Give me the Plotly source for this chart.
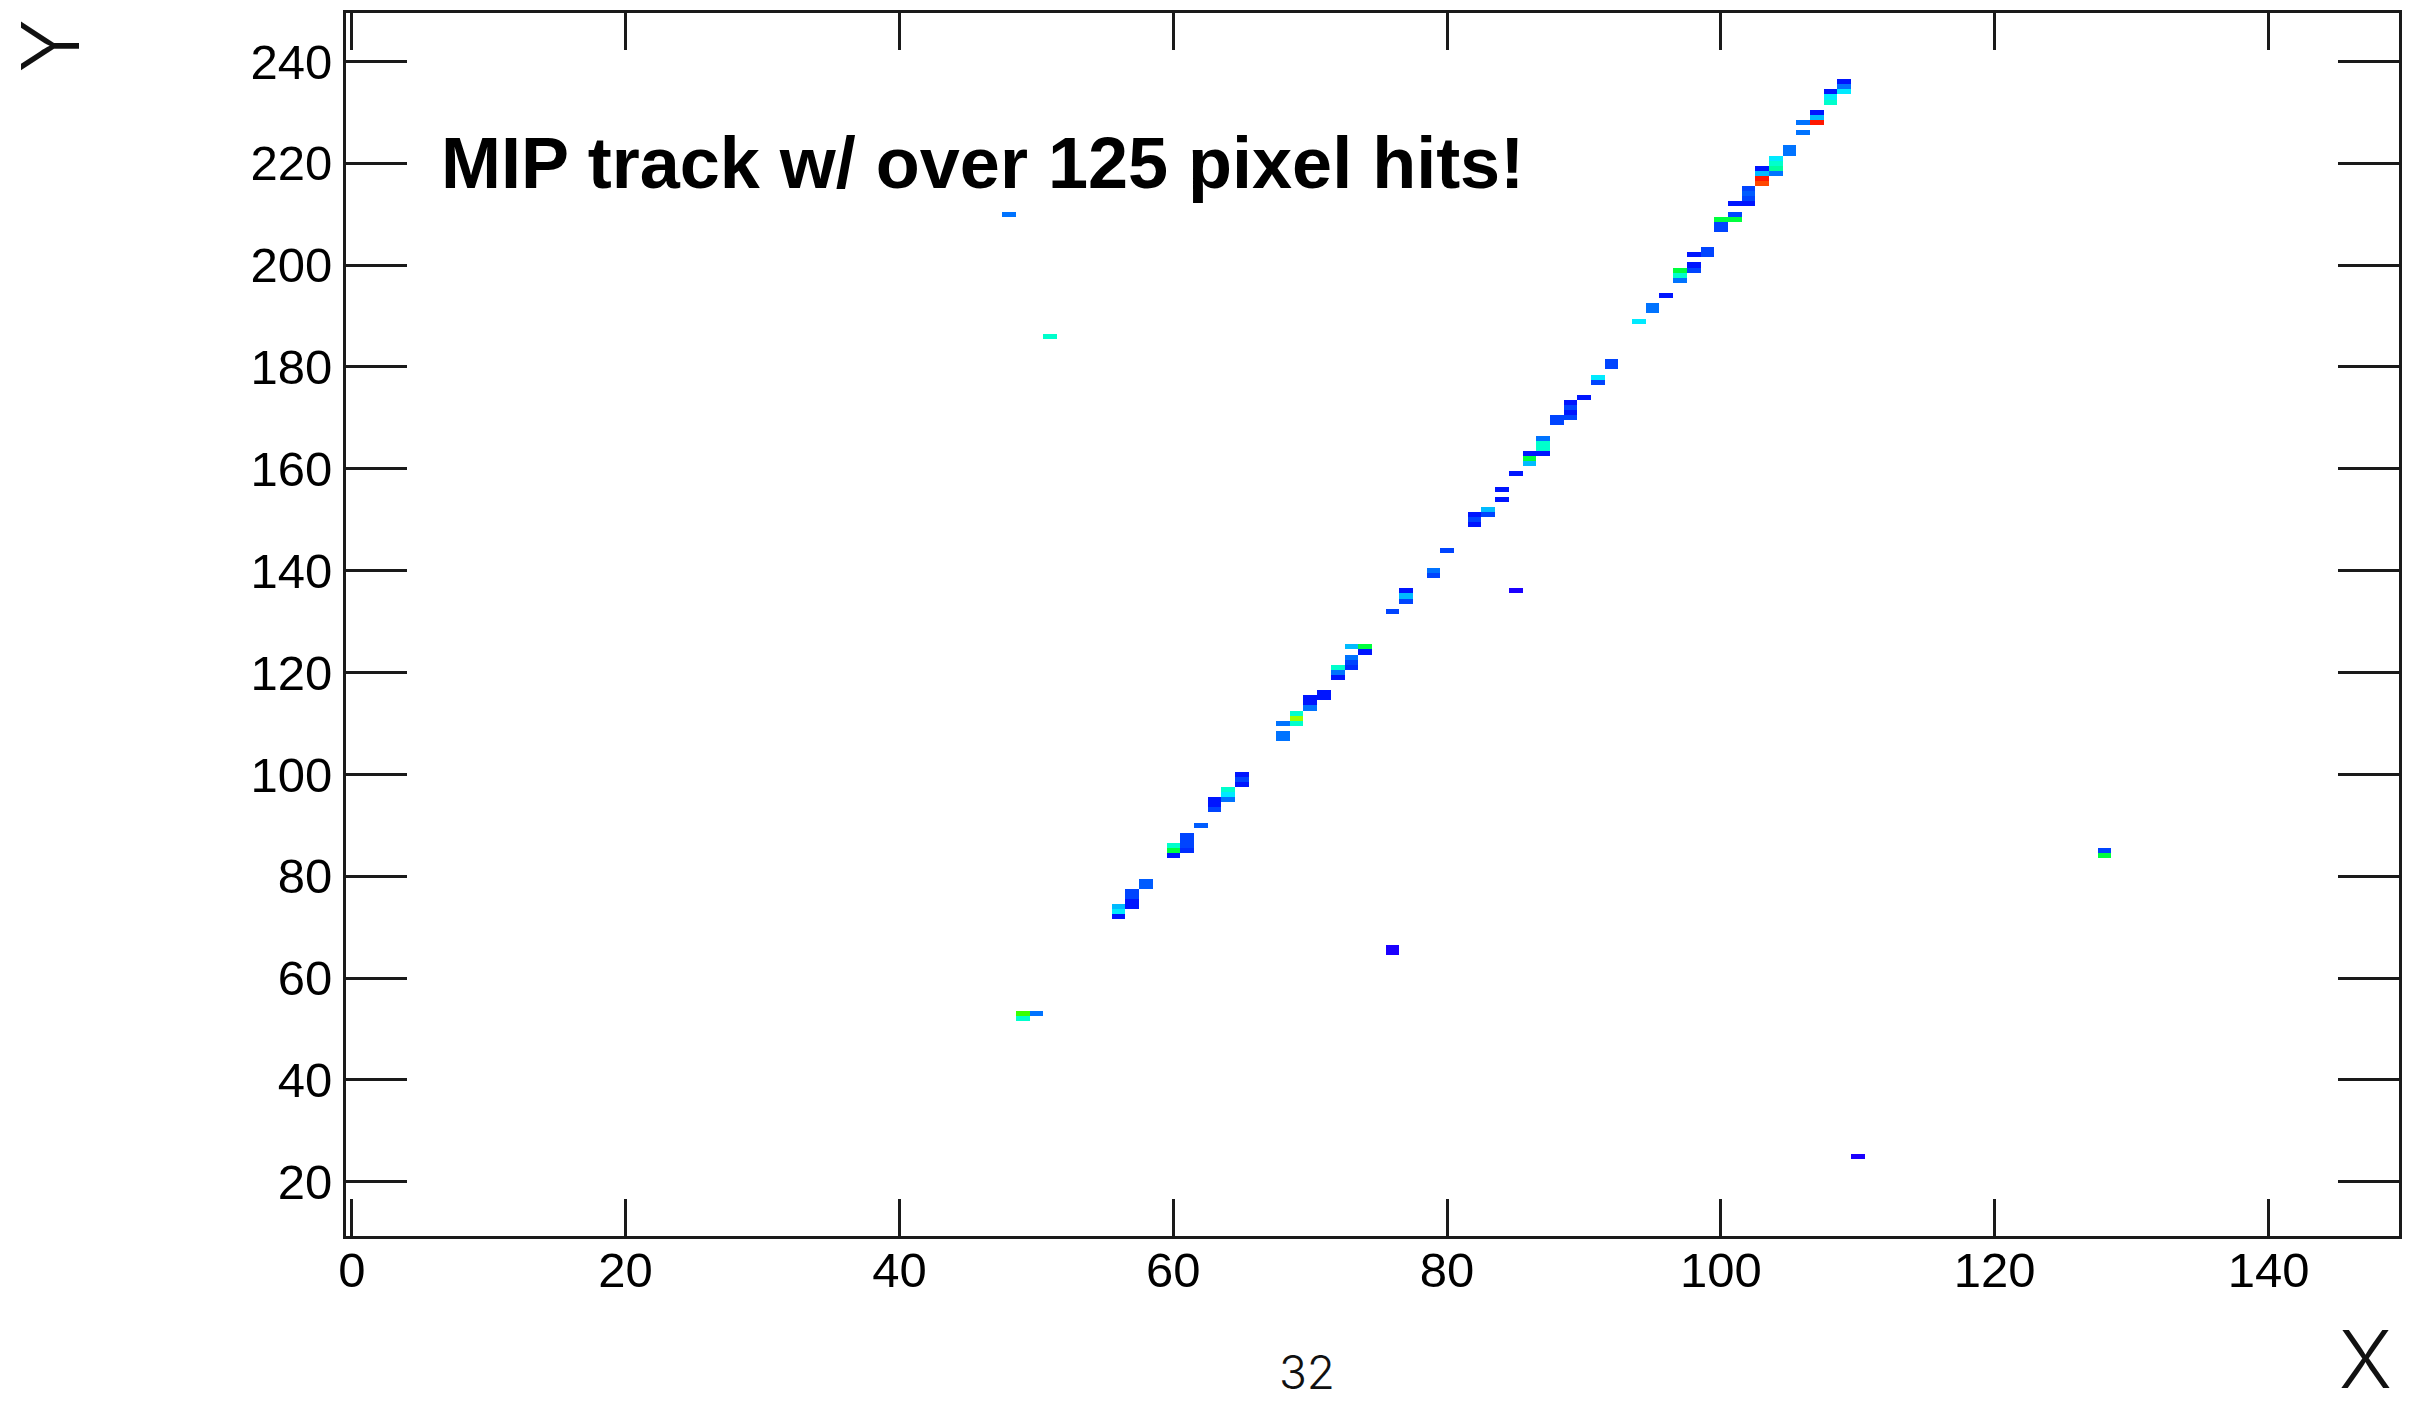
import colorsys
import numpy as np
import plotly.graph_objects as go

# ---------------- data: pixel hits (column, row, charge in palette units 0-50) ----------------
hit_x = [
    49, 49, 50,
    56, 56, 56,
    57, 57, 57, 57,
    58, 58,
    60, 60, 60,
    61, 61, 61, 61,
    62,
    63, 63, 63,
    64, 64, 64,
    65, 65, 65,
    68, 68, 68,
    69, 69, 69,
    70, 70, 70,
    71, 71,
    72, 72, 72,
    73, 73, 73, 73,
    74, 74,
    76,
    77, 77, 77,
    79, 79,
    80,
    82, 82, 82,
    83, 83,
    84, 84,
    85,
    86, 86, 86,
    87, 87, 87, 87,
    88, 88,
    89, 89, 89, 89,
    90,
    91, 91,
    92, 92,
    94,
    95, 95,
    96,
    97, 97, 97,
    98, 98, 98,
    99, 99,
    100, 100, 100,
    101, 101, 101,
    102, 102, 102, 102,
    103, 103, 103, 103,
    104, 104, 104, 104,
    105, 105,
    106, 106,
    107, 107, 107,
    108, 108, 108,
    109, 109, 109,
    48, 51, 76, 76, 85, 110, 128, 128,
]
hit_y = [
    53, 52, 53,
    74, 73, 72,
    77, 76, 75, 74,
    79, 78,
    86, 85, 84,
    88, 87, 86, 85,
    90,
    95, 94, 93,
    97, 96, 95,
    100, 99, 98,
    110, 108, 107,
    112, 111, 110,
    115, 114, 113,
    116, 115,
    121, 120, 119,
    125, 123, 122, 121,
    125, 124,
    132,
    136, 135, 134,
    140, 139,
    144,
    151, 150, 149,
    152, 151,
    156, 154,
    159,
    163, 162, 161,
    166, 165, 164, 163,
    170, 169,
    173, 172, 171, 170,
    174,
    178, 177,
    181, 180,
    189,
    192, 191,
    194,
    199, 198, 197,
    202, 200, 199,
    203, 202,
    209, 208, 207,
    212, 210, 209,
    215, 214, 213, 212,
    219, 218, 217, 216,
    221, 220, 219, 218,
    223, 222,
    228, 226,
    230, 229, 228,
    234, 233, 232,
    236, 235, 234,
    210, 186, 66, 65, 136, 25, 85, 84,
]
hit_charge = [
    31, 20, 12,
    15, 17, 8,
    10, 10, 8, 8,
    11, 11,
    20, 26, 8,
    10, 10, 10, 9,
    11,
    8, 8, 10,
    20, 17, 12,
    8, 10, 8,
    12, 12, 12,
    20, 35, 20,
    8, 8, 12,
    8, 8,
    20, 12, 8,
    15, 12, 10, 9,
    26, 8,
    10,
    8, 15, 10,
    12, 10,
    10,
    8, 10, 8,
    15, 10,
    8, 8,
    8,
    8, 26, 15,
    12, 20, 20, 8,
    10, 10,
    8, 10, 8, 10,
    8,
    17, 10,
    10, 10,
    17,
    12, 12,
    8,
    26, 20, 12,
    8, 8, 10,
    10, 10,
    26, 10, 10,
    8, 10, 26,
    10, 11, 10, 8,
    8, 15, 49, 47,
    17, 20, 22, 12,
    12, 12,
    12, 12,
    8, 15, 49,
    8, 17, 20,
    8, 12, 17,
    12, 20, 6, 6, 6, 6, 10, 26,
]

x_bins = list(range(0, 150))
y_bins = list(range(10, 250))
x_ticks = [0, 20, 40, 60, 80, 100, 120, 140]
y_ticks = [20, 40, 60, 80, 100, 120, 140, 160, 180, 200, 220, 240]

title_text = "MIP track w/ over 125 pixel hits!"
x_title = "X"
y_title = "Y"
page_number = "32"

# ---------------- build the 2D histogram grid ----------------
grid = np.full((len(y_bins), len(x_bins)), np.nan)
for xv, yv, cv in zip(hit_x, hit_y, hit_charge):
    grid[yv - y_bins[0], xv - x_bins[0]] = cv

# ROOT "pretty" palette: fully saturated hues from violet (280 deg) down to red (0 deg)
stops = []
n_stops = 29
for i in range(n_stops):
    f = i / (n_stops - 1)
    hue = (280.0 - 280.0 * f) / 360.0
    r, g, b = colorsys.hls_to_rgb(hue, 0.5, 1.0)
    stops.append([f, "rgb(%d,%d,%d)" % (round(r * 255), round(g * 255), round(b * 255))])

fig = go.Figure()
fig.add_trace(go.Heatmap(
    x=x_bins, y=y_bins, z=grid,
    colorscale=stops, zmin=0, zmax=50,
    showscale=False, hoverongaps=False,
))

W, H = 2409, 1409
L, R, T, B = 346, 7, 13, 173
pw, ph = W - L - R, H - T - B

def px(xp):
    return (xp - L) / pw

def py(yp):
    return (H - B - yp) / ph

axis_font = dict(family="Liberation Sans, Arial, sans-serif", size=49, color="#000000")
common = dict(
    showgrid=False, zeroline=False, showline=True, linewidth=3, linecolor="#1a1a1a",
    mirror="ticks", ticks="inside", tickwidth=3, tickcolor="#1a1a1a",
    tickfont=axis_font, fixedrange=True,
)
fig.update_xaxes(range=[-0.42, 149.53], tickvals=x_ticks, ticktext=[str(v) for v in x_ticks],
                 ticklen=37, ticklabelstandoff=-11, **common)
fig.update_yaxes(range=[9.35, 249.5], tickvals=y_ticks, ticktext=[str(v) for v in y_ticks],
                 ticklen=61, ticklabelstandoff=1, **common)

light_font = dict(family="Inter, Liberation Sans, sans-serif", color="#111111", weight=300)

fig.add_annotation(text="<b>%s</b>" % title_text, xref="paper", yref="paper",
                   x=px(439), y=py(163), xanchor="left", yanchor="middle", showarrow=False,
                   font=dict(family="Liberation Sans, Arial, sans-serif", size=72, color="#000000"))
fig.add_annotation(text=y_title, xref="paper", yref="paper", x=px(50), y=py(46),
                   xanchor="center", yanchor="middle", showarrow=False, textangle=-90,
                   font=dict(size=80, **light_font))
fig.add_annotation(text=x_title, xref="paper", yref="paper", x=px(2368), y=py(1358),
                   xanchor="center", yanchor="middle", showarrow=False,
                   font=dict(size=80, **light_font))
fig.add_annotation(text=page_number, xref="paper", yref="paper", x=px(1308), y=py(1372),
                   xanchor="center", yanchor="middle", showarrow=False,
                   font=dict(size=46, **light_font))

fig.update_layout(
    width=W, height=H, margin=dict(l=L, r=R, t=T, b=B),
    paper_bgcolor="white", plot_bgcolor="white", showlegend=False,
)
fig.write_html("out.html")
